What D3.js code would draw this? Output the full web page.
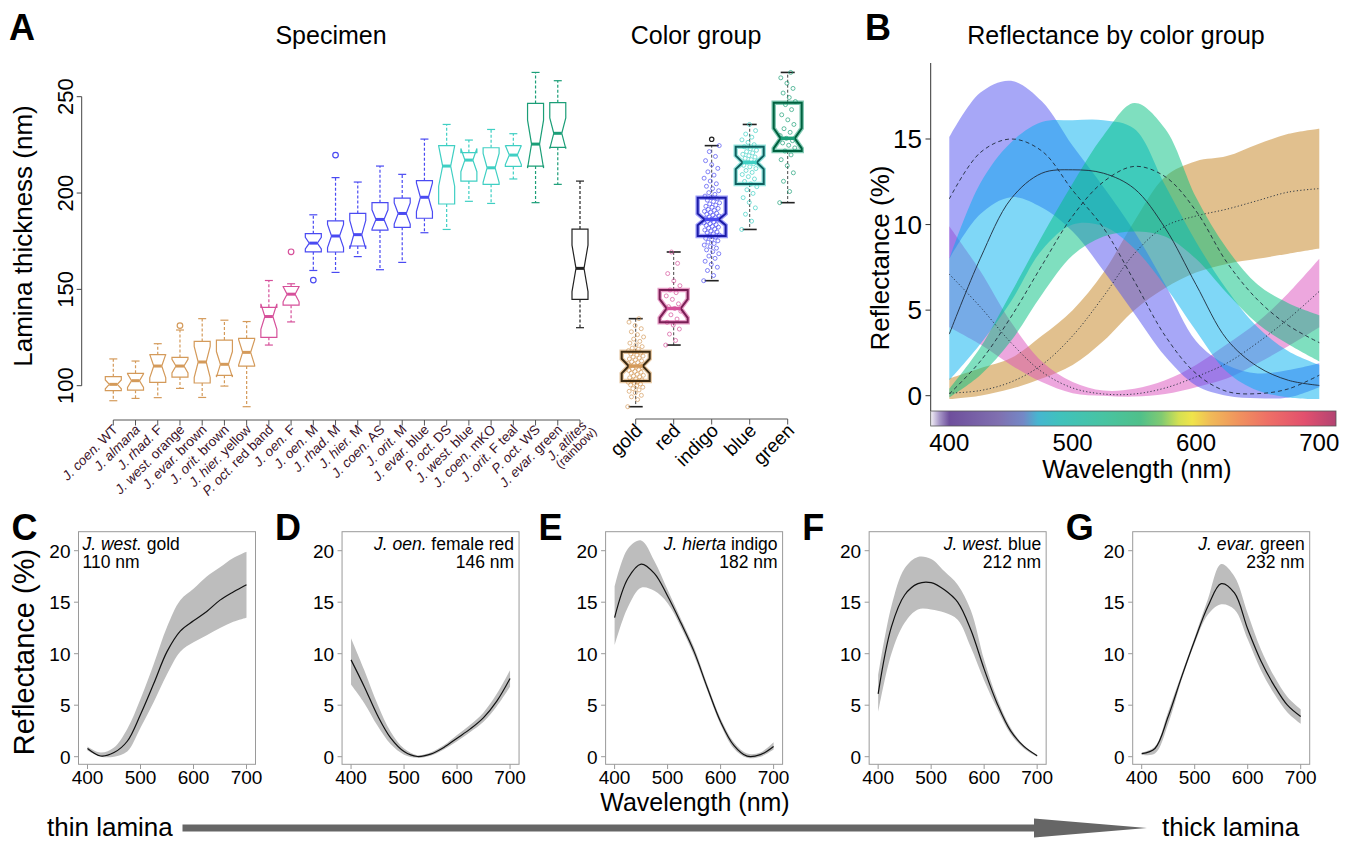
<!doctype html>
<html>
<head>
<meta charset="utf-8">
<style>
body { margin: 0; background: white; }
</style>
<script src="https://cdnjs.cloudflare.com/ajax/libs/d3/7.8.5/d3.min.js"></script>
</head>
<body>
<div id="chart"></div>
<script>
// ---------- panel A : specimens ----------
var specNames = ["J. coen. WT", "J. almana", "J. rhad. F", "J. west. orange", "J. evar. brown", "J. orit. brown",
  "J. hier. yellow", "P. oct. red band", "J. oen. F", "J. oen. M", "J. rhad. M", "J. hier. M", "J. coen. AS",
  "J. orit. M", "J. evar. blue", "P. oct. DS", "J. west. blue", "J. coen. mKO", "J. orit. F teal", "P. oct. WS",
  "J. evar. green", "J. atlites (rainbow)"];
var specGroup = [0, 0, 0, 0, 0, 0, 0, 1, 1, 2, 2, 2, 2, 2, 2, 3, 3, 3, 3, 4, 4, 5];
var specLo  = [92.2, 93.4, 93.8, 98.6, 93.9, 99.8, 89.1, 121.1, 133.1, 159.8, 158.8, 167.0, 160.2, 164.0, 179.4, 181.1, 195.7, 194.6, 207.3, 195.0, 204.5, 130.1];
var specQ1  = [97.4, 97.7, 101.7, 104.5, 101.4, 105.4, 110.2, 125.1, 141.8, 169.5, 169.4, 172.5, 180.8, 182.2, 186.9, 194.3, 206.2, 204.5, 213.8, 214.0, 223.7, 144.8];
var specMed = [100.7, 102.6, 110.2, 110.2, 112.3, 111.1, 117.3, 135.9, 147.5, 174.0, 177.7, 178.4, 186.3, 189.4, 197.8, 214.0, 217.1, 213.1, 219.7, 225.4, 231.0, 160.9];
var specQ3  = [104.7, 106.4, 116.1, 114.7, 123.0, 123.7, 124.6, 140.7, 151.5, 178.9, 185.6, 189.4, 195.0, 197.4, 206.4, 224.6, 221.0, 223.5, 224.6, 246.5, 246.9, 181.3];
var specHi  = [113.9, 112.8, 121.8, 128.9, 134.8, 134.0, 133.3, 154.6, 152.9, 188.7, 208.0, 205.7, 214.0, 209.7, 228.0, 235.6, 227.5, 233.0, 230.8, 262.6, 258.3, 206.2];
var specN   = [25, 15, 14, 21, 18, 19, 12, 14, 15, 24, 18, 13, 20, 19, 17, 21, 15, 16, 12, 17, 21, 23];
var specOut = [[], [], [], [131.2], [], [], [], [], [169.5], [154.8], [219.7], [], [], [], [], [], [], [], [], [], [], []];
var specTicks = [100, 150, 200, 250];

// ---------- panel A : colour groups ----------
var groupNames = ["gold", "red", "indigo", "blue", "green"];
var groupLo  = [89.1, 121.1, 154.5, 181.1, 195.0];
var groupQ1  = [102.4, 132.9, 177.7, 204.7, 221.8];
var groupMed = [110.2, 140.1, 186.3, 215.9, 228.4];
var groupQ3  = [117.6, 149.7, 197.6, 224.0, 246.9];
var groupHi  = [134.8, 169.4, 224.6, 235.6, 262.6];
var groupN   = [40, 30, 110, 76, 58];
var groupOut = [[], [], [227.9], [], []];
var goldPts = [89.1, 92.8, 94.2, 95.0, 96.3, 97.1, 97.8, 98.5, 99.2, 99.9, 100.4, 100.9, 101.3, 101.8, 102.2, 102.6,
  103.0, 103.5, 104.1, 104.6, 105.0, 105.4, 105.9, 106.5, 107.0, 107.4, 107.9, 108.3, 108.8, 109.3, 109.7, 110.2,
  110.6, 111.0, 111.5, 112.0, 112.4, 112.9, 113.4, 113.9, 114.4, 114.9, 115.4, 115.9, 116.5, 117.0, 117.6, 118.2,
  118.9, 119.5, 120.3, 121.2, 122.1, 123.0, 124.2, 125.3, 126.5, 128.0, 129.6, 131.2, 133.0, 134.8];
var redPts = [121.1, 123.5, 126.8, 129.4, 131.5, 132.9, 134.6, 136.8, 138.7, 140.1, 141.0, 142.5, 144.8, 146.6,
  148.3, 149.7, 151.9, 154.4, 158.2, 163.5, 169.4];
var indigoPts = [154.5, 157.2, 159.8, 161.5, 163.0, 164.6, 166.1, 167.3, 168.5, 169.6, 170.5, 171.4, 172.2, 173.0,
  173.8, 174.5, 175.2, 175.9, 176.5, 177.1, 177.7, 178.2, 178.8, 179.3, 179.8, 180.3, 180.8, 181.3, 181.8, 182.3,
  182.7, 183.2, 183.6, 184.1, 184.5, 185.0, 185.4, 185.9, 186.3, 186.7, 187.2, 187.6, 188.1, 188.5, 189.0, 189.5,
  190.0, 190.5, 191.0, 191.5, 192.0, 192.6, 193.1, 193.7, 194.3, 194.9, 195.6, 196.3, 197.0, 197.6, 198.4, 199.3,
  200.2, 201.2, 202.3, 203.5, 204.8, 206.2, 207.7, 209.3, 211.0, 212.8, 214.7, 216.8, 219.0, 221.5, 224.6];
var bluePts = [181.1, 185.4, 189.0, 192.3, 195.1, 197.6, 199.8, 201.7, 203.3, 204.7, 206.0, 207.3, 208.5, 209.6,
  210.7, 211.7, 212.7, 213.6, 214.4, 215.2, 215.9, 216.6, 217.3, 218.0, 218.7, 219.4, 220.1, 220.8, 221.5, 222.2,
  223.0, 224.0, 225.1, 226.3, 227.6, 229.0, 230.6, 232.4, 235.6];
var greenPts = [195.0, 200.8, 206.1, 210.5, 214.2, 217.3, 219.8, 221.8, 223.4, 224.8, 226.0, 227.2, 228.4, 229.8,
  231.5, 233.4, 235.6, 238.0, 240.6, 243.3, 245.9, 247.5, 249.6, 251.9, 254.3, 257.0, 259.8, 262.6];
var groupPts = [goldPts, redPts, indigoPts, bluePts, greenPts];

// ---------- panel B : mean and spread per colour group ----------
var wl = [400, 425, 450, 475, 500, 525, 550, 575, 600, 625, 650, 675, 700];
var goldMean = [0.15, 0.3, 0.8, 1.8, 3.5, 5.8, 8.3, 9.9, 10.5, 10.9, 11.4, 11.9, 12.1];
var goldTop  = [1.0, 1.6, 2.2, 3.5, 5.0, 7.2, 10.2, 12.8, 13.7, 14.0, 14.7, 15.3, 15.6];
var goldBot  = [-0.2, 0.0, 0.4, 1.0, 1.8, 3.2, 5.0, 6.3, 7.2, 7.7, 8.0, 8.3, 8.6];
var redMean = [7.1, 5.2, 3.1, 1.4, 0.45, 0.1, 0.1, 0.45, 1.1, 1.9, 3.1, 4.5, 6.1];
var redTop  = [9.9, 7.3, 4.3, 2.0, 0.8, 0.3, 0.4, 0.9, 1.8, 3.0, 4.3, 6.0, 8.0];
var redBot  = [4.0, 3.0, 1.8, 0.8, 0.15, 0.0, -0.05, 0.1, 0.5, 1.0, 1.9, 2.9, 4.0];
var indigoMean = [11.5, 14.2, 15.0, 14.3, 12.0, 9.8, 6.7, 3.5, 1.3, 0.25, 0.12, 0.4, 1.2];
var indigoTop  = [15.1, 17.7, 18.4, 17.2, 14.6, 12.2, 9.6, 6.5, 3.2, 1.8, 1.3, 1.5, 1.9];
var indigoBot  = [8.0, 10.6, 11.6, 11.0, 9.6, 7.3, 4.8, 2.3, 0.6, 0.0, -0.15, -0.1, 0.5];
var blueMean = [3.6, 8.0, 11.5, 13.0, 13.2, 13.0, 12.1, 9.8, 6.5, 3.3, 1.7, 0.9, 0.6];
var blueTop  = [8.0, 12.4, 14.8, 16.0, 16.1, 16.1, 15.6, 12.3, 9.0, 6.2, 4.0, 2.6, 1.8];
var blueBot  = [0.9, 3.0, 5.5, 8.5, 10.0, 9.9, 8.6, 6.4, 3.8, 1.4, 0.3, -0.1, -0.2];
var greenMean = [0.1, 2.0, 4.6, 7.6, 10.5, 12.5, 13.4, 12.8, 10.8, 7.8, 5.6, 4.1, 3.1];
var greenTop  = [0.4, 2.8, 6.0, 9.3, 12.4, 15.2, 17.1, 15.6, 11.6, 8.6, 6.5, 5.4, 4.7];
var greenBot  = [-0.1, 1.2, 3.2, 5.9, 8.2, 9.3, 9.6, 9.3, 8.0, 6.0, 4.2, 3.0, 2.0];
var reflTicksB = [0, 5, 10, 15];
var wlTicks = [400, 500, 600, 700];
var barWl  = [385, 392, 400, 440, 460, 472, 490, 525, 555, 572, 586, 597, 612, 635, 658, 688, 713];
var barCol = ["#f4f1f7", "#a898c8", "#6e4f9c", "#8070b0", "#7488c6", "#46b6d0", "#40c2bc", "#48c4a2", "#50c08a",
  "#80ca72", "#d4e052", "#f0e44a", "#f0ba58", "#f0925e", "#ee7066", "#e2506e", "#b44472"];

// ---------- panels C-G : single specimens ----------
var specLabels = ["J. west. gold", "J. oen. female red", "J. hierta indigo", "J. west. blue", "J. evar. green"];
var specThick = ["110 nm", "146 nm", "182 nm", "212 nm", "232 nm"];
var panelLetters = ["C", "D", "E", "F", "G"];
var cMean = [0.8, 0.07, 0.4, 1.5, 4.1, 7.1, 10.2, 12.2, 13.2, 14.1, 15.2, 16.0, 16.7];
var cTop  = [1.0, 0.4, 0.9, 2.7, 5.6, 9.0, 12.6, 15.2, 16.3, 17.5, 18.4, 19.3, 19.9];
var cBot  = [0.6, 0.0, 0.0, 0.5, 2.8, 5.3, 8.0, 10.2, 11.1, 11.8, 12.5, 13.1, 13.5];
var dMean = [9.4, 6.8, 4.0, 1.8, 0.5, 0.02, 0.25, 0.9, 1.8, 2.7, 3.8, 5.4, 7.6];
var dTop  = [11.5, 8.4, 5.1, 2.4, 0.8, 0.15, 0.4, 1.1, 2.1, 3.1, 4.3, 6.1, 8.4];
var dBot  = [7.0, 5.2, 3.0, 1.2, 0.2, -0.1, 0.1, 0.7, 1.5, 2.4, 3.4, 4.9, 6.8];
var eMean = [13.5, 17.3, 18.7, 17.8, 15.6, 13.0, 10.2, 6.7, 3.4, 1.1, 0.05, 0.2, 1.0];
var eTop  = [16.5, 20.2, 21.0, 19.0, 16.2, 13.4, 10.6, 7.0, 3.7, 1.4, 0.3, 0.4, 1.4];
var eBot  = [10.8, 14.5, 16.4, 16.1, 14.9, 12.6, 9.8, 6.4, 3.1, 0.8, -0.1, 0.0, 0.7];
var fMean = [6.1, 12.6, 15.7, 16.8, 16.9, 16.2, 15.0, 12.3, 8.5, 5.1, 2.5, 1.0, 0.1];
var fTop  = [7.9, 14.6, 18.3, 19.4, 19.2, 18.0, 16.7, 14.2, 9.4, 5.6, 2.8, 1.1, 0.15];
var fBot  = [4.3, 10.0, 13.0, 14.3, 14.3, 14.0, 13.3, 10.6, 7.4, 4.6, 2.2, 0.8, 0.0];
var gMean = [0.3, 0.8, 3.9, 7.7, 11.3, 14.6, 16.8, 15.9, 12.4, 9.3, 6.9, 5.0, 3.9];
var gTop  = [0.4, 1.0, 4.4, 8.0, 11.6, 15.3, 18.7, 17.5, 13.9, 10.4, 7.8, 5.8, 4.6];
var gBot  = [0.2, 0.3, 3.2, 7.4, 11.0, 13.8, 14.8, 14.3, 11.4, 8.4, 6.1, 4.3, 3.2];
var reflTicksS = [0, 5, 10, 15, 20];

// ---------- drawing ----------
var FONT = "'Liberation Sans', Arial, Helvetica, sans-serif";
var svg = d3.select("#chart").append("svg")
  .attr("width", 1353).attr("height", 844)
  .style("font-family", FONT);

var colSpec = ["#d49a5a", "#d6509a", "#4a4af2", "#3fcfc3", "#1b9e77", "#222222"];
var colDark = ["#3b2a12", "#7a1f55", "#1c1ca8", "#0f5f5f", "#00613f"];

function label(x, y, txt, size, anchor, weight) {
  return svg.append("text").attr("x", x).attr("y", y).attr("font-size", size)
    .attr("text-anchor", anchor || "start").attr("font-weight", weight || "normal").text(txt);
}
// first two words (genus + species) in italics
function speciesText(sel, txt) {
  var t = txt.split(" ");
  sel.append("tspan").attr("font-style", "italic").text(t.slice(0, 2).join(" "));
  if (t.length > 2) sel.append("tspan").text(" " + t.slice(2).join(" "));
}
function notchPath(cx, hw, q1, med, q3, nh, y) {
  var p = d3.path();
  p.moveTo(cx - hw, y(q3)); p.lineTo(cx - hw, y(med + nh)); p.lineTo(cx - hw / 2, y(med));
  p.lineTo(cx - hw, y(med - nh)); p.lineTo(cx - hw, y(q1)); p.lineTo(cx + hw, y(q1));
  p.lineTo(cx + hw, y(med - nh)); p.lineTo(cx + hw / 2, y(med)); p.lineTo(cx + hw, y(med + nh));
  p.lineTo(cx + hw, y(q3)); p.closePath();
  return p.toString();
}

// panel letters and titles
label(9, 40, "A", 36, "start", "bold");
label(865, 40, "B", 36, "start", "bold");
label(331, 44, "Specimen", 25, "middle");
label(696, 44, "Color group", 25, "middle");
label(1116, 44, "Reflectance by color group", 25, "middle");

// ---- panel A ----
var yA = d3.scaleLinear().domain([100, 250]).range([385.7, 96.7]);
var xA = d3.scalePoint().domain(specNames).range([113.3, 580]);
var xG = d3.scalePoint().domain(groupNames).range([635.7, 787.7]);
var gA = svg.append("g");

gA.append("line").attr("x1", 81.7).attr("x2", 81.7).attr("y1", yA(250)).attr("y2", yA(100)).attr("stroke", "#444");
specTicks.forEach(function (t) {
  gA.append("line").attr("x1", 76.7).attr("x2", 81.7).attr("y1", yA(t)).attr("y2", yA(t)).attr("stroke", "#444");
  gA.append("text").attr("transform", "translate(73," + yA(t) + ") rotate(-90)")
    .attr("text-anchor", "middle").attr("font-size", 22).text(t);
});
gA.append("text").attr("transform", "translate(32,236) rotate(-90)")
  .attr("text-anchor", "middle").attr("font-size", 26).text("Lamina thickness (nm)");

// specimen axis
gA.append("line").attr("x1", xA.range()[0]).attr("x2", xA.range()[1]).attr("y1", 420).attr("y2", 420).attr("stroke", "#555");
specNames.forEach(function (nm, i) {
  var cx = xA(nm), hw = 8, c = colSpec[specGroup[i]];
  var nh = 1.58 * (specQ3[i] - specQ1[i]) / Math.sqrt(specN[i]);
  gA.append("line").attr("x1", cx).attr("x2", cx).attr("y1", 420).attr("y2", 425.5).attr("stroke", "#555");
  var wk = gA.append("g").attr("stroke", c).attr("fill", "none").attr("stroke-width", 1.2);
  wk.append("line").attr("x1", cx).attr("x2", cx).attr("y1", yA(specQ3[i])).attr("y2", yA(specHi[i])).attr("stroke-dasharray", "3,2");
  wk.append("line").attr("x1", cx).attr("x2", cx).attr("y1", yA(specQ1[i])).attr("y2", yA(specLo[i])).attr("stroke-dasharray", "3,2");
  wk.append("line").attr("x1", cx - 4).attr("x2", cx + 4).attr("y1", yA(specHi[i])).attr("y2", yA(specHi[i]));
  wk.append("line").attr("x1", cx - 4).attr("x2", cx + 4).attr("y1", yA(specLo[i])).attr("y2", yA(specLo[i]));
  wk.append("path").attr("d", notchPath(cx, hw, specQ1[i], specMed[i], specQ3[i], nh, yA)).attr("fill", "white");
  wk.append("line").attr("x1", cx - hw / 2).attr("x2", cx + hw / 2).attr("y1", yA(specMed[i])).attr("y2", yA(specMed[i])).attr("stroke-width", 3);
  specOut[i].forEach(function (o) {
    wk.append("circle").attr("cx", cx).attr("cy", yA(o)).attr("r", 2.8);
  });
  // tick label
  var k = nm.indexOf("(");
  if (k > 0) {
    var lab2 = gA.append("text").attr("transform", "translate(" + (cx + 7) + ",426) rotate(-45)")
      .attr("text-anchor", "end").attr("font-size", 13.5).attr("fill", "#3a1128");
    lab2.append("tspan").attr("x", 0).attr("dy", "0.05em").attr("font-style", "italic").text(nm.slice(0, k - 1));
    lab2.append("tspan").attr("x", 3).attr("dy", "0.9em").attr("font-size", 12.5).text(nm.slice(k));
  } else {
    var lab = gA.append("text").attr("transform", "translate(" + (cx + 2) + ",427) rotate(-45)")
      .attr("text-anchor", "end").attr("font-size", 13.5).attr("fill", "#3a1128").attr("dy", "0.35em");
    speciesText(lab, nm);
  }
});

// colour group axis and boxes
gA.append("line").attr("x1", xG.range()[0]).attr("x2", xG.range()[1]).attr("y1", 419).attr("y2", 419).attr("stroke", "#555");
groupNames.forEach(function (nm, i) {
  var cx = xG(nm), hw = 14, c = colSpec[i];
  var nh = 1.58 * (groupQ3[i] - groupQ1[i]) / Math.sqrt(groupN[i]);
  var d = notchPath(cx, hw, groupQ1[i], groupMed[i], groupQ3[i], nh, yA);
  gA.append("line").attr("x1", cx).attr("x2", cx).attr("y1", 419).attr("y2", 424.5).attr("stroke", "#555");
  var gg = gA.append("g").attr("fill", "none");
  gg.append("line").attr("x1", cx).attr("x2", cx).attr("y1", yA(groupQ3[i])).attr("y2", yA(groupHi[i]))
    .attr("stroke", "#444").attr("stroke-dasharray", "3,2");
  gg.append("line").attr("x1", cx).attr("x2", cx).attr("y1", yA(groupQ1[i])).attr("y2", yA(groupLo[i]))
    .attr("stroke", "#444").attr("stroke-dasharray", "3,2");
  [groupHi[i], groupLo[i]].forEach(function (v) {
    gg.append("line").attr("x1", cx - 7).attr("x2", cx + 7).attr("y1", yA(v)).attr("y2", yA(v))
      .attr("stroke", "#222").attr("stroke-width", 1.6);
  });
  gg.append("path").attr("d", d).attr("stroke", c).attr("stroke-width", 4.5).attr("stroke-opacity", 0.55).attr("fill", "white");
  groupPts[i].forEach(function (v, j) {
    var jx = ((j * 0.618034) % 1 - 0.5) * 2 * 8;
    gg.append("circle").attr("cx", cx + jx).attr("cy", yA(v)).attr("r", 2)
      .attr("stroke", c).attr("stroke-width", 0.8).attr("stroke-opacity", 0.85);
  });
  gg.append("path").attr("d", d).attr("stroke", colDark[i]).attr("stroke-width", 2);
  gg.append("line").attr("x1", cx - hw / 2).attr("x2", cx + hw / 2).attr("y1", yA(groupMed[i])).attr("y2", yA(groupMed[i]))
    .attr("stroke", c).attr("stroke-width", 3.5);
  groupOut[i].forEach(function (o) {
    gg.append("circle").attr("cx", cx).attr("cy", yA(o)).attr("r", 2.2).attr("stroke", "#222").attr("stroke-width", 1.2);
  });
  gA.append("text").attr("transform", "translate(" + (cx + 3) + ",427) rotate(-45)")
    .attr("text-anchor", "end").attr("dy", "0.35em").attr("font-size", 19).text(nm);
});

// ---- panel B ----
var xB = d3.scaleLinear().domain([400, 700]).range([949.3, 1319.3]);
var yB = d3.scaleLinear().domain([0, 15]).range([395.7, 139]);
var gB = svg.append("g");
var bandsB = [
  { top: goldTop, bot: goldBot, mean: goldMean, fill: "#c88c32", op: 0.55, dash: "1.2,2.2" },
  { top: redTop, bot: redBot, mean: redMean, fill: "#dc50be", op: 0.5, dash: "1.2,2.2" },
  { top: indigoTop, bot: indigoBot, mean: indigoMean, fill: "#5050f0", op: 0.5, dash: "4,3" },
  { top: blueTop, bot: blueBot, mean: blueMean, fill: "#00b0f0", op: 0.5, dash: null },
  { top: greenTop, bot: greenBot, mean: greenMean, fill: "#00c080", op: 0.5, dash: "4,3" }
];
var areaB = function (b) {
  return d3.area().x(function (d, i) { return xB(wl[i]); })
    .y0(function (d, i) { return yB(b.bot[i]); }).y1(function (d, i) { return yB(b.top[i]); })
    .curve(d3.curveCatmullRom)(wl);
};
var lineB = d3.line().x(function (d, i) { return xB(wl[i]); }).y(function (d) { return yB(d); }).curve(d3.curveCatmullRom);
bandsB.forEach(function (b) {
  gB.append("path").attr("d", areaB(b)).attr("fill", b.fill).attr("fill-opacity", b.op);
});
bandsB.forEach(function (b) {
  gB.append("path").attr("d", lineB(b.mean)).attr("fill", "none").attr("stroke", "#1e2a3a")
    .attr("stroke-width", 0.9).attr("stroke-dasharray", b.dash);
});
gB.append("line").attr("x1", 930.7).attr("x2", 930.7).attr("y1", 63).attr("y2", 411).attr("stroke", "#333");
reflTicksB.forEach(function (t) {
  gB.append("line").attr("x1", 925.5).attr("x2", 930.7).attr("y1", yB(t)).attr("y2", yB(t)).attr("stroke", "#333");
  gB.append("text").attr("x", 922).attr("y", yB(t) + 9).attr("text-anchor", "end").attr("font-size", 26).text(t);
});
gB.append("text").attr("transform", "translate(889,258) rotate(-90)")
  .attr("text-anchor", "middle").attr("font-size", 26).text("Reflectance (%)");
// colour bar
var x0 = 930.7, x1 = 1336;
var grad = svg.append("defs").append("linearGradient").attr("id", "spec")
  .attr("x1", "0%").attr("x2", "100%").attr("y1", "0%").attr("y2", "0%");
barWl.forEach(function (w, i) {
  grad.append("stop").attr("offset", ((xB(w) - x0) / (x1 - x0) * 100) + "%").attr("stop-color", barCol[i]);
});
gB.append("rect").attr("x", x0).attr("y", 411).attr("width", x1 - x0).attr("height", 15)
  .attr("fill", "url(#spec)").attr("stroke", "#555").attr("stroke-width", 0.8);
wlTicks.forEach(function (t) {
  gB.append("text").attr("x", xB(t)).attr("y", 451).attr("text-anchor", "middle").attr("font-size", 24).text(t);
});
gB.append("text").attr("x", 1137).attr("y", 478).attr("text-anchor", "middle").attr("font-size", 25).text("Wavelength (nm)");

// ---- panels C-G ----
var spectra = [[cMean, cTop, cBot], [dMean, dTop, dBot], [eMean, eTop, eBot], [fMean, fTop, fBot], [gMean, gTop, gBot]];
var yS = d3.scaleLinear().domain([0, 20]).range([756.7, 550.7]);
spectra.forEach(function (s, p) {
  var left = 78.5 + p * 263.55, w = 177;
  var xS = d3.scaleLinear().domain([400, 700]).range([left + 9, left + 168]);
  var g = svg.append("g");
  var area = d3.area().x(function (d, i) { return xS(wl[i]); })
    .y0(function (d, i) { return yS(s[2][i]); }).y1(function (d, i) { return yS(s[1][i]); })
    .curve(d3.curveCatmullRom);
  var line = d3.line().x(function (d, i) { return xS(wl[i]); }).y(function (d) { return yS(d); }).curve(d3.curveCatmullRom);
  g.append("path").attr("d", area(wl)).attr("fill", "#bdbdbd");
  g.append("path").attr("d", line(s[0])).attr("fill", "none").attr("stroke", "#111").attr("stroke-width", 1.2);
  g.append("rect").attr("x", left).attr("y", 531.7).attr("width", w).attr("height", 232.6)
    .attr("fill", "none").attr("stroke", "#9a9a9a").attr("stroke-width", 1);
  wlTicks.forEach(function (t) {
    g.append("line").attr("x1", xS(t)).attr("x2", xS(t)).attr("y1", 764.3).attr("y2", 769).attr("stroke", "#9a9a9a");
    g.append("text").attr("x", xS(t)).attr("y", 783.5).attr("text-anchor", "middle").attr("font-size", 19).text(t);
  });
  reflTicksS.forEach(function (t) {
    g.append("line").attr("x1", left - 4.5).attr("x2", left).attr("y1", yS(t)).attr("y2", yS(t)).attr("stroke", "#9a9a9a");
    g.append("text").attr("x", left - 8).attr("y", yS(t) + 7).attr("text-anchor", "end").attr("font-size", 19).text(t);
  });
  var lx = p === 0 ? left + 4 : left + w - 5, anc = p === 0 ? "start" : "end";
  var t1 = g.append("text").attr("x", lx).attr("y", 550).attr("text-anchor", anc).attr("font-size", 17.5);
  speciesText(t1, specLabels[p]);
  g.append("text").attr("x", lx).attr("y", 568).attr("text-anchor", anc).attr("font-size", 17.5).text(specThick[p]);
  label(left - 67, 540, panelLetters[p], 36, "start", "bold");
});
svg.append("text").attr("transform", "translate(34,652) rotate(-90)")
  .attr("text-anchor", "middle").attr("font-size", 29).text("Reflectance (%)");
label(695, 811, "Wavelength (nm)", 25, "middle");

// thin -> thick arrow
label(47, 836, "thin lamina", 26, "start");
label(1162, 836, "thick lamina", 26, "start");
svg.append("line").attr("x1", 182.5).attr("x2", 1036).attr("y1", 828).attr("y2", 828)
  .attr("stroke", "#666").attr("stroke-width", 7);
svg.append("path").attr("d", "M1034,818.5 L1147,828 L1034,837.5 Z").attr("fill", "#666");
</script>
</body>
</html>
